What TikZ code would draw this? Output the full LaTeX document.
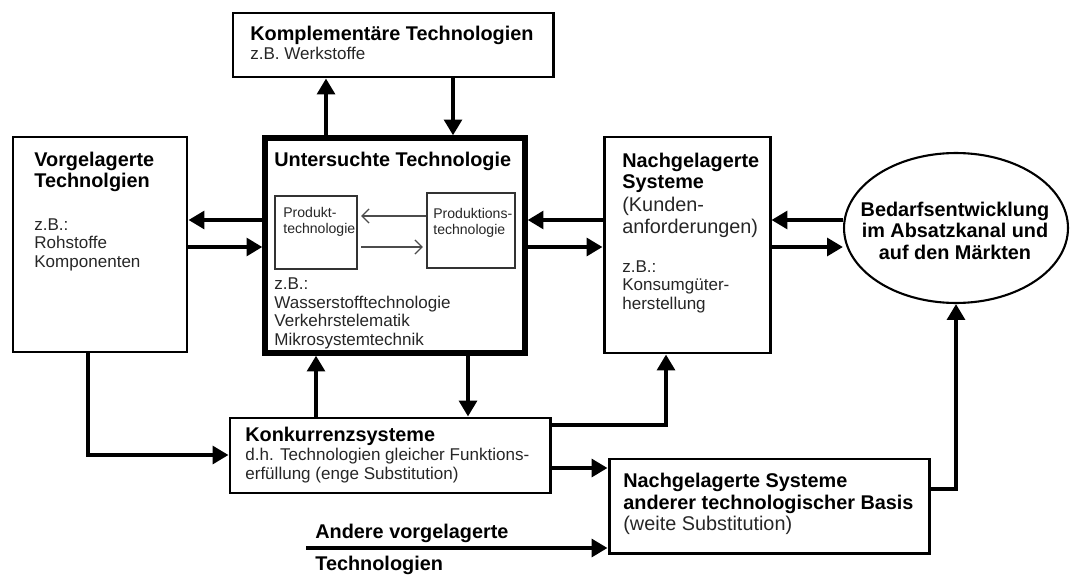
\documentclass[tikz,border=0pt]{standalone}
\usepackage{fontspec}
\setmainfont{Liberation Sans}
\usetikzlibrary{positioning,fit,shapes.geometric,arrows.meta}
\tikzset{
   box/.style = {%
    draw, line width=1.7pt, inner sep=0pt},
   mainbox/.style = {%
    box, line width=3pt},
   subbox/.style = {%
    draw=black!80, line width=0.8pt, inner sep=0pt},
   market/.style = {%
    ellipse, draw, line width=1.2pt, inner sep=0pt,
    minimum width=4.48cm, minimum height=3cm},
   headtxt/.style = {%
    anchor=base west, inner sep=0pt, align=left,
    font=\fontsize{11.3}{12.5}\selectfont\bfseries},
   bigtxt/.style = {%
    anchor=base west, inner sep=0pt, align=left, text=black!85,
    font=\fontsize{11.3}{12.5}\selectfont},
   bodytxt/.style = {%
    anchor=base west, inner sep=0pt, align=left, text=black!85,
    font=\fontsize{9.7}{10.5}\selectfont},
   smalltxt/.style = {%
    anchor=base west, inner sep=0pt, align=left, text=black!85,
    font=\fontsize{8}{9}\selectfont},
   flow/.style = {%
    line width=2.6pt,
    -{Triangle[length=9pt,width=10pt]}},
   subflow/.style = {%
    draw=black!70, line width=0.7pt,
    -{Straight Barb[length=4pt,width=8pt]}},
    }

\begin{document}
\begin{tikzpicture}[x=0.02cm,y=-0.02cm]
  \useasboundingbox (0,0) rectangle (1070,574);
  % boxes
  \node[box, fit={(233,13) (553,77)}] (komp) {};
  \node[mainbox, fit={(265,138) (525,353)}] (unter) {};
  \node[box, fit={(13,137) (187,352)}] (vor) {};
  \node[box, fit={(604,137) (770,353)}] (nach) {};
  \node[box, fit={(230,418) (550,493)}] (konk) {};
  \node[box, fit={(609,459) (929,553)}] (nachand) {};
  \node[subbox, fit={(275,196) (357,269)}] (produkt) {};
  \node[subbox, fit={(427,193) (515,268)}] (produktion) {};
  \node[market] (markt) at (956,228) {};
  % texts (multi-line ones sit on their last baseline)
  \node[headtxt] (kompTitle) at (250,41) {Komplementäre Technologien};
  \node[bodytxt] (kompBody) at (250,60) {z.B. Werkstoffe};
  \node[headtxt] (vorTitle) at (34,188) {Vorgelagerte\\Technolgien};
  \node[bodytxt] (vorBody) at (34,267) {z.B.:\\Rohstoffe\\Komponenten};
  \node[headtxt] (unterTitle) at (274,167) {Untersuchte Technologie};
  \node[bodytxt] (unterBody) at (274,345)
    {z.B.:\\Wasserstofftechnologie\\Verkehrstelematik\\Mikrosystemtechnik};
  \node[smalltxt] (produktTxt) at (283,233) {Produkt-\\technologie};
  \node[smalltxt] (produktionTxt) at (433,234) {Produktions-\\technologie};
  \node[headtxt] (nachTitle) at (622,189) {Nachgelagerte\\Systeme};
  \node[bigtxt] (nachSub) at (622,233) {(Kunden-\\anforderungen)};
  \node[bodytxt] (nachBody) at (622,309) {z.B.:\\Konsumgüter-\\herstellung};
  \node[headtxt, anchor=base, align=center,
        font=\fontsize{11.3}{12.2}\selectfont\bfseries] (marktTxt) at (955,259)
    {Bedarfsentwicklung\\im Absatzkanal und\\auf den Märkten};
  \node[headtxt] (konkTitle) at (245,441) {Konkurrenzsysteme};
  \node[bodytxt, font=\fontsize{9.7}{10.8}\selectfont] (konkBody) at (245,479)
    {d.h. Technologien gleicher Funktions-\\erfüllung (enge Substitution)};
  \node[headtxt] (nachandTitle) at (623,509)
    {Nachgelagerte Systeme\\anderer technologischer Basis};
  \node[bigtxt] (nachandBody) at (623,530) {(weite Substitution)};
  \node[headtxt] (andereTop) at (315,538) {Andere vorgelagerte};
  \node[headtxt] (andereBot) at (315,570) {Technologien};
  % connectors
  \draw[flow] (326,0 |- unter.north) -- (326,0 |- komp.south);
  \draw[flow] (453,0 |- komp.south) -- (453,0 |- unter.north);
  \draw[flow] (0,220 -| unter.west) -- (0,220 -| vor.east);
  \draw[flow] (0,247 -| vor.east) -- (0,247 -| unter.west);
  \draw[flow] (0,220 -| nach.west) -- (0,220 -| unter.east);
  \draw[flow] (0,247 -| unter.east) -- (0,247 -| nach.west);
  \draw[flow] (0,220 -| markt.west) -- (0,220 -| nach.east);
  \draw[flow] (0,247 -| nach.east) -- (0,247 -| markt.west);
  \draw[flow] (316,0 |- konk.north) -- (316,0 |- unter.south);
  \draw[flow] (468,0 |- unter.south) -- (468,0 |- konk.north);
  \draw[flow] (88,0 |- vor.south) |- (0,455 -| konk.west);
  \draw[flow] (0,425 -| konk.east) -| (666,0 |- nach.south);
  \draw[flow] (0,468 -| konk.east) -- (0,468 -| nachand.west);
  \coordinate (andStart) at (306,548);
  \draw[flow] (andStart) -- (andStart -| nachand.west);
  \draw[flow] (0,489 -| nachand.east) -| (markt.south);
  \draw[subflow, shorten >=2pt] (0,216 -| produktion.west) -- (0,216 -| produkt.east);
  \draw[subflow, shorten <=2pt, shorten >=2pt] (0,247 -| produkt.east) -- (0,247 -| produktion.west);
\end{tikzpicture}
\end{document}
